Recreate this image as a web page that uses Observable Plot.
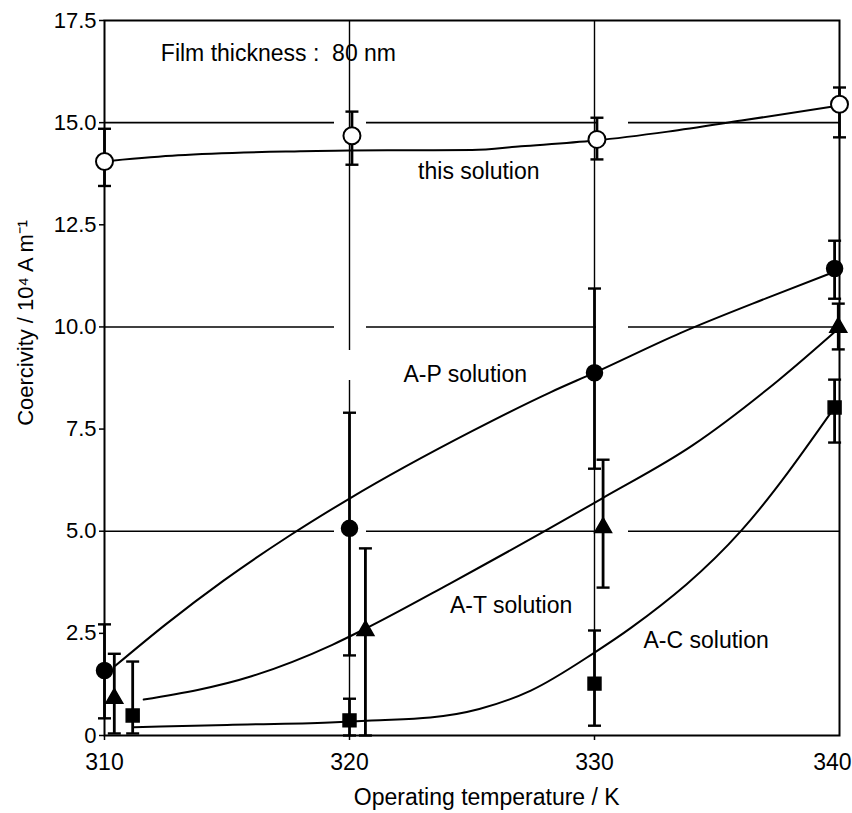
<!DOCTYPE html>
<html>
<head>
<meta charset="utf-8">
<script src="https://cdn.jsdelivr.net/npm/d3@7"></script>
<script src="https://cdn.jsdelivr.net/npm/@observablehq/plot@0.6"></script>
<style>
  html, body { margin: 0; padding: 0; background: #fff; }
  #chart svg { display: block; }
</style>
</head>
<body>
<div id="chart"></div>
<script>
// ---- axis ticks ----
const xTicks = [310, 320, 330];
const xLastTick = [340];
const yTicks = [0, 2.5, 5, 7.5, 10, 12.5, 15, 17.5];
const xGrid = [320, 330];
const yGrid = [5, 10, 15];

// ---- "this solution" (open circles) ----
const thisX  = [310, 320.1, 330.1, 340];
const thisY  = [14.05, 14.68, 14.59, 15.45];
const thisLo = [13.45, 13.97, 14.10, 14.64];
const thisHi = [14.85, 15.27, 15.12, 15.86];
const thisCurveX = [310.3, 313, 318, 320, 325, 327, 330, 333, 336, 340];
const thisCurveY = [14.07, 14.2, 14.3, 14.32, 14.33, 14.42, 14.56, 14.78, 15.05, 15.42];

// ---- A-P solution (filled circles) ----
const apX  = [310, 320, 330, 339.8];
const apY  = [1.59, 5.07, 8.88, 11.43];
const apLo = [0.42, 1.96, 6.53, 10.69];
const apHi = [2.72, 7.90, 10.94, 12.11];
const apCurveX = [310.45, 312.5, 314.86, 317.5, 320, 325, 328.2, 330, 333.5, 337, 339.8];
const apCurveY = [1.71, 2.72, 3.79, 4.87, 5.8, 7.45, 8.4, 8.88, 9.85, 10.7, 11.35];

// ---- A-T solution (triangles) ----
const atX  = [310.4, 320.65, 330.35, 339.95];
const atY  = [0.91, 2.57, 5.09, 9.99];
const atLo = [0.05, 0.0, 3.62, 9.45];
const atHi = [2.00, 4.58, 6.75, 10.57];
const atCurveX = [311.6, 316, 319.3, 320.6, 324.1, 330.3, 334, 337.5, 340];
const atCurveY = [0.88, 1.45, 2.22, 2.6, 3.72, 5.8, 7.1, 8.69, 9.98];

// ---- A-C solution (squares) ----
const acX  = [311.15, 320, 330, 339.8];
const acY  = [0.49, 0.37, 1.27, 8.03];
const acLo = [0.05, 0.0, 0.24, 7.17];
const acHi = [1.81, 0.90, 2.57, 8.71];
const acCurveX = [311.2, 315, 319.2, 320.9, 323.3, 325.3, 327.4, 330, 331.5, 336, 339.8];
const acCurveY = [0.2, 0.26, 0.32, 0.37, 0.44, 0.65, 1.1, 2.03, 2.64, 5.02, 8.03];

// ---- text ----
const xLabel = "Operating temperature / K";
const yLabel = "Coercivity / 10\u2074 A m\u207B\u00B9";
const noteText = "Film thickness :  80 nm";
const seriesLabels = ["this solution", "A-P solution", "A-T solution", "A-C solution"];
const seriesLabelX = [322.8, 322.2, 324.1, 332.0];
const seriesLabelY = [13.63, 8.64, 3.01, 2.13];

// helpers
const pts = (xs, ys) => xs.map((x, i) => ({x, y: ys[i]}));
const bars = (xs, ys, lo, hi) => xs.map((x, i) => ({x, y: ys[i], lo: lo[i], hi: hi[i]}));
const thisPts = bars(thisX, thisY, thisLo, thisHi);
const apPts = bars(apX, apY, apLo, apHi);
const atPts = bars(atX, atY, atLo, atHi);
const acPts = bars(acX, acY, acLo, acHi);
const allBars = [...thisPts, ...apPts, ...atPts, ...acPts];
const labels = seriesLabels.map((t, i) => ({t, x: seriesLabelX[i], y: seriesLabelY[i]}));

const capSymbol = {
  draw(ctx, size) {
    const h = Math.sqrt(size / Math.PI);
    ctx.moveTo(-h, 0); ctx.lineTo(h, 0);
  }
};

const font = "'Liberation Sans', Arial, Helvetica, sans-serif";
const curveOpts = {x: "x", y: "y", curve: "monotone-x", stroke: "#000", strokeWidth: 2};

const chart = Plot.plot({
  width: 852,
  height: 813,
  marginLeft: 104,
  marginRight: 13,
  marginTop: 20,
  marginBottom: 78,
  style: {fontFamily: font, background: "#fff", color: "#000"},
  x: {domain: [310, 340]},
  y: {domain: [0, 17.5]},
  marks: [
    // grid
    Plot.ruleY(yGrid, {stroke: "#000", strokeWidth: 1.6, strokeDasharray: "230,32"}),
    Plot.ruleX(xGrid, {stroke: "#000", strokeWidth: 1.4, strokeDasharray: "330,30"}),
    Plot.frame({stroke: "#000", strokeWidth: 2}),
    Plot.axisY({ticks: yTicks, tickFormat: d => d === 0 ? "0" : d.toFixed(1), tickSize: 5, tickPadding: 3, fontSize: 22, label: null, strokeWidth: 1.5}),
    Plot.axisX({ticks: xTicks, tickFormat: d => String(d), tickSize: 5, tickPadding: 13, fontSize: 23, label: null, strokeWidth: 1.5}),
    Plot.axisX({ticks: xLastTick, tickFormat: d => String(d), tickSize: 0, tickPadding: 18, fontSize: 23, label: null, textAnchor: "end", dx: 12}),
    // fitted curves
    Plot.line(pts(thisCurveX, thisCurveY), curveOpts),
    Plot.line(pts(apCurveX, apCurveY), curveOpts),
    Plot.line(pts(atCurveX, atCurveY), curveOpts),
    Plot.line(pts(acCurveX, acCurveY), curveOpts),
    // error bars
    Plot.ruleX(allBars, {x: "x", y1: "lo", y2: "hi", stroke: "#000", strokeWidth: 2.8}),
    Plot.dot(allBars, {x: "x", y: "hi", symbol: capSymbol, r: 6.5, stroke: "#000", strokeWidth: 2.4, fill: "none"}),
    Plot.dot(allBars, {x: "x", y: "lo", symbol: capSymbol, r: 6.5, stroke: "#000", strokeWidth: 2.4, fill: "none"}),
    // markers
    Plot.dot(thisPts, {x: "x", y: "y", r: 8.5, symbol: "circle", fill: "#fff", stroke: "#000", strokeWidth: 2}),
    Plot.dot(apPts, {x: "x", y: "y", r: 8, symbol: "circle", fill: "#000", stroke: "#000"}),
    Plot.dot(atPts, {x: "x", y: "y", r: 6.3, symbol: "triangle", fill: "#000", stroke: "#000"}),
    Plot.dot(acPts, {x: "x", y: "y", r: 7.3, symbol: "square", fill: "#000", stroke: "#000"}),
    // annotations
    Plot.text([noteText], {x: 312.3, y: 16.52, text: d => d, textAnchor: "start", lineAnchor: "bottom", fontSize: 23, fill: "#000"}),
    Plot.text(labels, {x: "x", y: "y", text: "t", textAnchor: "start", lineAnchor: "bottom", fontSize: 23, fill: "#000"}),
    // axis titles
    Plot.text([xLabel], {x: 325.6, frameAnchor: "bottom", dy: 62, text: d => d, textAnchor: "middle", lineAnchor: "middle", fontSize: 23, fill: "#000"}),
    Plot.text([yLabel], {y: 10.1, frameAnchor: "left", dx: -79, rotate: -90, text: d => d, textAnchor: "middle", lineAnchor: "middle", fontSize: 22, fill: "#000"})
  ]
});
document.getElementById("chart").appendChild(chart);
</script>
</body>
</html>
